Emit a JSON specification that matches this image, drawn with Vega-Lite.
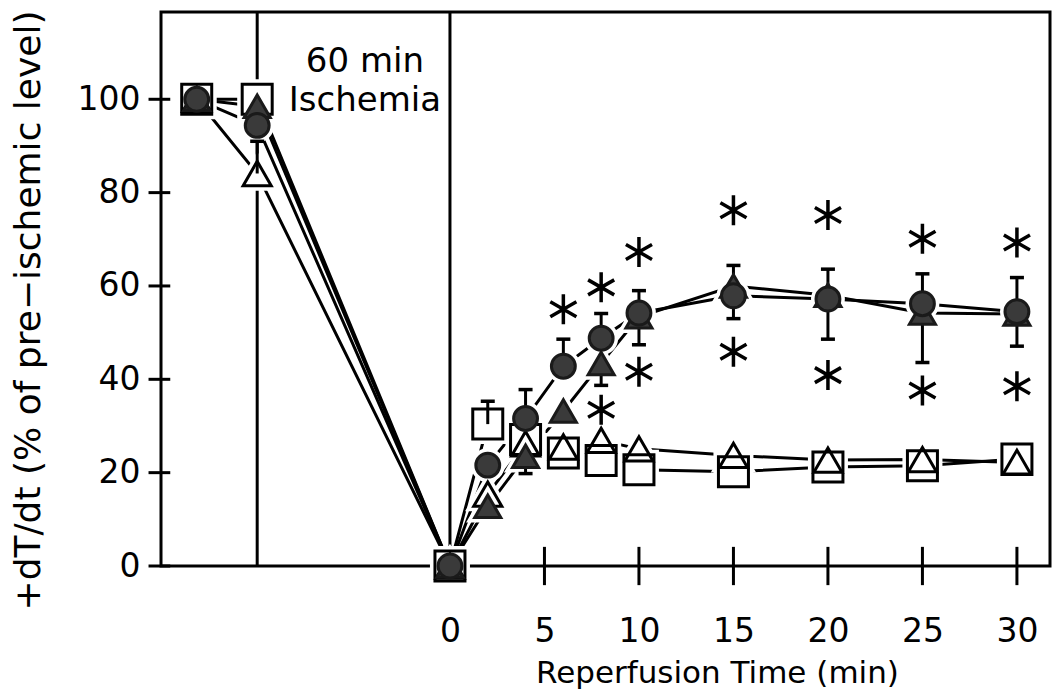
{
  "$schema": "https://vega.github.io/schema/vega-lite/v6.json",
  "autosize": {"type": "none"},
  "width": 889,
  "height": 554,
  "padding": {"left": 161, "top": 12, "right": 7, "bottom": 132},
  "background": "white",
  "config": {
    "view": {"stroke": "black", "strokeWidth": 3},
    "font": "DejaVu Sans",
    "axis": {"grid": false, "domain": false, "ticks": false, "tickSize": 0, "labelColor": "black", "titleColor": "black", "labelFont": "DejaVu Sans", "titleFont": "DejaVu Sans", "titleFontWeight": "normal", "labelFontSize": 33},
    "axisX": {"labelPadding": 49, "labelBaseline": "top", "titleFontSize": 31, "titleX": 556, "titleY": 116, "titleAlign": "center", "titleBaseline": "alphabetic"},
    "axisY": {"labelPadding": 21, "titleFontSize": 36, "titleAngle": -90, "titleX": -122, "titleY": 298, "titleAlign": "center", "titleBaseline": "alphabetic"}
  },
  "datasets": {
    "series": [
      {"g": "D", "t": -13.4, "v": 100}, {"g": "C", "t": -13.4, "v": 100}, {"g": "B", "t": -13.4, "v": 100}, {"g": "A", "t": -13.4, "v": 100},
      {"g": "D", "t": -10.2, "v": 100}, {"g": "C", "t": -10.2, "v": 84.1}, {"g": "B", "t": -10.2, "v": 98.5}, {"g": "A", "t": -10.2, "v": 94.4},
      {"g": "D", "t": 0, "v": 0}, {"g": "C", "t": 0, "v": 0}, {"g": "B", "t": 0, "v": 0}, {"g": "A", "t": 0, "v": 0},
      {"g": "D", "t": 2, "v": 30.4}, {"g": "C", "t": 2, "v": 15.4}, {"g": "B", "t": 2, "v": 12.8}, {"g": "A", "t": 2, "v": 21.6},
      {"g": "D", "t": 4, "v": 27.1}, {"g": "C", "t": 4, "v": 26.2}, {"g": "B", "t": 4, "v": 23.5}, {"g": "A", "t": 4, "v": 31.6},
      {"g": "D", "t": 6, "v": 24.2}, {"g": "C", "t": 6, "v": 25.5}, {"g": "B", "t": 6, "v": 33.2}, {"g": "A", "t": 6, "v": 42.8},
      {"g": "D", "t": 8, "v": 22.6}, {"g": "C", "t": 8, "v": 26.9}, {"g": "B", "t": 8, "v": 43.4}, {"g": "A", "t": 8, "v": 48.8},
      {"g": "D", "t": 10, "v": 20.6}, {"g": "C", "t": 10, "v": 25.1}, {"g": "B", "t": 10, "v": 53.4}, {"g": "A", "t": 10, "v": 54.2},
      {"g": "D", "t": 15, "v": 20.2}, {"g": "C", "t": 15, "v": 23.7}, {"g": "B", "t": 15, "v": 60.0}, {"g": "A", "t": 15, "v": 57.9},
      {"g": "D", "t": 20, "v": 21.2}, {"g": "C", "t": 20, "v": 22.7}, {"g": "B", "t": 20, "v": 58.0}, {"g": "A", "t": 20, "v": 57.2},
      {"g": "D", "t": 25, "v": 21.5}, {"g": "C", "t": 25, "v": 22.8}, {"g": "B", "t": 25, "v": 54.2}, {"g": "A", "t": 25, "v": 56.2},
      {"g": "D", "t": 30, "v": 22.9}, {"g": "C", "t": 30, "v": 22.2}, {"g": "B", "t": 30, "v": 54.0}, {"g": "A", "t": 30, "v": 54.5}
    ],
    "errs": [
      {"g": "C", "t": -10.2, "v": 84.1, "e": 91.0},
      {"g": "D", "t": 2, "v": 30.4, "e": 35.3},
      {"g": "A", "t": 4, "v": 31.6, "e": 37.8},
      {"g": "A", "t": 6, "v": 42.8, "e": 48.6},
      {"g": "A", "t": 8, "v": 48.8, "e": 54.1},
      {"g": "A", "t": 10, "v": 54.2, "e": 59.0},
      {"g": "A", "t": 15, "v": 57.9, "e": 64.4},
      {"g": "A", "t": 20, "v": 57.2, "e": 63.6},
      {"g": "A", "t": 25, "v": 56.2, "e": 62.6},
      {"g": "A", "t": 30, "v": 54.5, "e": 61.8},
      {"g": "B", "t": 4, "v": 23.5, "e": 19.8},
      {"g": "B", "t": 8, "v": 43.4, "e": 38.7},
      {"g": "B", "t": 10, "v": 53.4, "e": 47.4},
      {"g": "B", "t": 15, "v": 60.0, "e": 53.0},
      {"g": "B", "t": 20, "v": 58.0, "e": 48.6},
      {"g": "B", "t": 25, "v": 54.2, "e": 43.6},
      {"g": "B", "t": 30, "v": 54.0, "e": 47.1}
    ],
    "stars": [
      {"t": 6, "v": 55.0}, {"t": 8, "v": 59.7}, {"t": 10, "v": 67.3}, {"t": 15, "v": 76.2},
      {"t": 20, "v": 75.2}, {"t": 25, "v": 70.1}, {"t": 30, "v": 69.3},
      {"t": 8, "v": 33.5}, {"t": 10, "v": 41.6}, {"t": 15, "v": 45.9},
      {"t": 20, "v": 40.9}, {"t": 25, "v": 37.6}, {"t": 30, "v": 38.5}
    ],
    "dividers": [{"t": -10.2}, {"t": 0}],
    "xticks": [{"t": 5}, {"t": 10}, {"t": 15}, {"t": 20}, {"t": 25}, {"t": 30}],
    "yticks": [{"v": 0}, {"v": 20}, {"v": 40}, {"v": 60}, {"v": 80}, {"v": 100}],
    "note": [{"t": -4.5, "v": 108.0, "label": ["60 min", "Ischemia"]}]
  },
  "layer": [
    {
      "data": {"name": "dividers"},
      "mark": {"type": "rule", "color": "black", "strokeWidth": 3},
      "encoding": {
        "x": {"field": "t", "type": "quantitative", "scale": {"domain": [-15.29, 31.75], "nice": false, "zero": false}, "axis": {"values": [0, 5, 10, 15, 20, 25, 30], "title": "Reperfusion Time (min)"}}
      }
    },
    {
      "data": {"name": "series"},
      "mark": {"type": "line", "color": "black", "strokeWidth": 3},
      "encoding": {
        "x": {"field": "t", "type": "quantitative", "scale": {"domain": [-15.29, 31.75], "nice": false, "zero": false}, "axis": {"values": [0, 5, 10, 15, 20, 25, 30], "title": "Reperfusion Time (min)"}},
        "y": {"field": "v", "type": "quantitative", "scale": {"domain": [0, 118.7], "nice": false, "zero": false}, "axis": {"values": [0, 20, 40, 60, 80, 100], "title": "+dT/dt (% of pre\u2212ischemic level)"}},
        "detail": {"field": "g"}
      }
    },
    {
      "data": {"name": "series"},
      "mark": {"type": "point", "filled": true, "fill": "white", "stroke": "white", "strokeWidth": 10, "opacity": 1},
      "encoding": {
        "x": {"field": "t", "type": "quantitative", "scale": {"domain": [-15.29, 31.75], "nice": false, "zero": false}, "axis": {"values": [0, 5, 10, 15, 20, 25, 30], "title": "Reperfusion Time (min)"}},
        "y": {"field": "v", "type": "quantitative", "scale": {"domain": [0, 118.7], "nice": false, "zero": false}, "axis": {"values": [0, 20, 40, 60, 80, 100], "title": "+dT/dt (% of pre\u2212ischemic level)"}},
        "shape": {"field": "g", "type": "nominal", "scale": {"domain": ["A", "B", "C", "D"], "range": ["circle", "triangle-up", "triangle-up", "square"]}, "legend": null},
        "size": {"field": "g", "type": "nominal", "scale": {"domain": ["A", "B", "C", "D"], "range": [570, 900, 900, 784]}, "legend": null}
      }
    },
    {
      "data": {"name": "errs"},
      "mark": {"type": "rule", "color": "black", "strokeWidth": 3},
      "encoding": {
        "x": {"field": "t", "type": "quantitative", "scale": {"domain": [-15.29, 31.75], "nice": false, "zero": false}, "axis": {"values": [0, 5, 10, 15, 20, 25, 30], "title": "Reperfusion Time (min)"}},
        "y": {"field": "v", "type": "quantitative", "scale": {"domain": [0, 118.7], "nice": false, "zero": false}, "axis": {"values": [0, 20, 40, 60, 80, 100], "title": "+dT/dt (% of pre\u2212ischemic level)"}},
        "y2": {"field": "e"}
      }
    },
    {
      "data": {"name": "errs"},
      "mark": {"type": "point", "shape": "stroke", "size": 196, "stroke": "black", "strokeWidth": 3.5, "opacity": 1},
      "encoding": {
        "x": {"field": "t", "type": "quantitative", "scale": {"domain": [-15.29, 31.75], "nice": false, "zero": false}, "axis": {"values": [0, 5, 10, 15, 20, 25, 30], "title": "Reperfusion Time (min)"}},
        "y": {"field": "e", "type": "quantitative", "scale": {"domain": [0, 118.7], "nice": false, "zero": false}, "axis": {"values": [0, 20, 40, 60, 80, 100], "title": "+dT/dt (% of pre\u2212ischemic level)"}}
      }
    },
    {
      "data": {"name": "series"},
      "mark": {"type": "point", "filled": true, "strokeWidth": 3, "opacity": 1},
      "encoding": {
        "x": {"field": "t", "type": "quantitative", "scale": {"domain": [-15.29, 31.75], "nice": false, "zero": false}, "axis": {"values": [0, 5, 10, 15, 20, 25, 30], "title": "Reperfusion Time (min)"}},
        "y": {"field": "v", "type": "quantitative", "scale": {"domain": [0, 118.7], "nice": false, "zero": false}, "axis": {"values": [0, 20, 40, 60, 80, 100], "title": "+dT/dt (% of pre\u2212ischemic level)"}},
        "shape": {"field": "g", "type": "nominal", "scale": {"domain": ["A", "B", "C", "D"], "range": ["circle", "triangle-up", "triangle-up", "square"]}, "legend": null},
        "size": {"field": "g", "type": "nominal", "scale": {"domain": ["A", "B", "C", "D"], "range": [570, 900, 900, 784]}, "legend": null},
        "fill": {"field": "g", "type": "nominal", "scale": {"domain": ["A", "B", "C", "D"], "range": ["#3a3a3a", "#3a3a3a", "transparent", "transparent"]}, "legend": null},
        "stroke": {"field": "g", "type": "nominal", "scale": {"domain": ["A", "B", "C", "D"], "range": ["#1a1a1a", "#1a1a1a", "black", "black"]}, "legend": null}
      }
    },
    {
      "data": {"name": "xticks"},
      "mark": {"type": "rule", "color": "black", "strokeWidth": 3},
      "encoding": {
        "x": {"field": "t", "type": "quantitative", "scale": {"domain": [-15.29, 31.75], "nice": false, "zero": false}, "axis": {"values": [0, 5, 10, 15, 20, 25, 30], "title": "Reperfusion Time (min)"}},
        "y": {"datum": -4.1, "type": "quantitative", "scale": {"domain": [0, 118.7], "nice": false, "zero": false}, "axis": {"values": [0, 20, 40, 60, 80, 100], "title": "+dT/dt (% of pre\u2212ischemic level)"}},
        "y2": {"datum": 4.1}
      }
    },
    {
      "data": {"name": "yticks"},
      "mark": {"type": "rule", "color": "black", "strokeWidth": 3},
      "encoding": {
        "y": {"field": "v", "type": "quantitative", "scale": {"domain": [0, 118.7], "nice": false, "zero": false}, "axis": {"values": [0, 20, 40, 60, 80, 100], "title": "+dT/dt (% of pre\u2212ischemic level)"}},
        "x": {"datum": -15.95, "type": "quantitative", "scale": {"domain": [-15.29, 31.75], "nice": false, "zero": false}, "axis": {"values": [0, 5, 10, 15, 20, 25, 30], "title": "Reperfusion Time (min)"}},
        "x2": {"datum": -14.8}
      }
    },
    {
      "data": {"name": "stars"},
      "mark": {"type": "point", "shape": "M0,-1L0,1M-0.87,-0.5L0.87,0.5M-0.87,0.5L0.87,-0.5", "size": 900, "filled": false, "stroke": "black", "strokeWidth": 3.5, "opacity": 1},
      "encoding": {
        "x": {"field": "t", "type": "quantitative", "scale": {"domain": [-15.29, 31.75], "nice": false, "zero": false}, "axis": {"values": [0, 5, 10, 15, 20, 25, 30], "title": "Reperfusion Time (min)"}},
        "y": {"field": "v", "type": "quantitative", "scale": {"domain": [0, 118.7], "nice": false, "zero": false}, "axis": {"values": [0, 20, 40, 60, 80, 100], "title": "+dT/dt (% of pre\u2212ischemic level)"}}
      }
    },
    {
      "data": {"name": "note"},
      "mark": {"type": "text", "fontSize": 34, "font": "DejaVu Sans", "align": "center", "baseline": "middle", "lineHeight": 39, "color": "black"},
      "encoding": {
        "x": {"field": "t", "type": "quantitative", "scale": {"domain": [-15.29, 31.75], "nice": false, "zero": false}, "axis": {"values": [0, 5, 10, 15, 20, 25, 30], "title": "Reperfusion Time (min)"}},
        "y": {"field": "v", "type": "quantitative", "scale": {"domain": [0, 118.7], "nice": false, "zero": false}, "axis": {"values": [0, 20, 40, 60, 80, 100], "title": "+dT/dt (% of pre\u2212ischemic level)"}},
        "text": {"field": "label"}
      }
    }
  ]
}
